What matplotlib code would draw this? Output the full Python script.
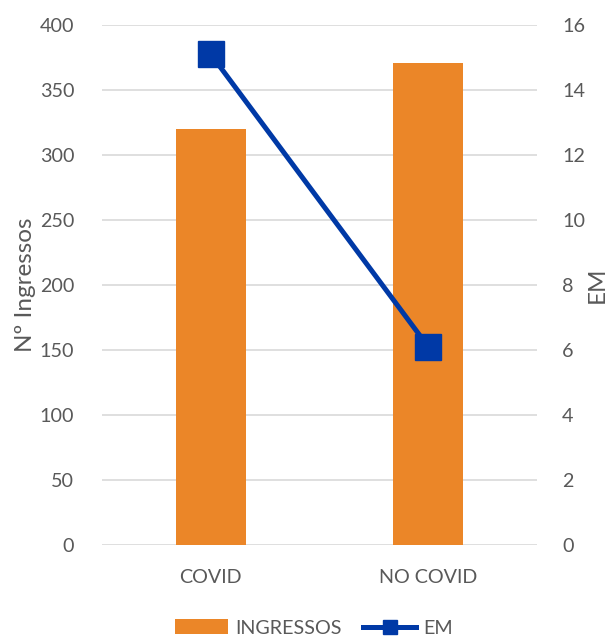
import matplotlib.pyplot as plt

plt.rcParams['font.family'] = ['Lato', 'DejaVu Sans']

# Data
categories = ['COVID', 'NO COVID']
ingressos = [320, 371]
em = [15.1, 6.1]

bar_color = '#EB8628'
line_color = '#0039A6'
text_color = '#595959'
grid_color = '#D9D9D9'

fig = plt.figure(figsize=(6.07, 6.36), dpi=100)
ax = fig.add_axes([102 / 607, 1 - 545 / 636, 435 / 607, 520 / 636])
ax2 = ax.twinx()

x = range(len(categories))
bars = ax.bar(x, ingressos, width=0.32, color=bar_color, zorder=2, label='INGRESSOS')
line, = ax2.plot(x, em, color=line_color, linewidth=3.6, marker='s', markersize=19,
                 label='EM', zorder=3)

ax.set_xlim(-0.5, 1.5)
ax.set_ylim(0, 400)
ax.set_yticks(range(0, 401, 50))
ax2.set_ylim(0, 16)
ax2.set_yticks(range(0, 17, 2))
ax.set_xticks(list(x))
ax.set_xticklabels(categories)

ax.grid(axis='y', color=grid_color, linewidth=1.2, zorder=0)
ax.set_axisbelow(True)
for a in (ax, ax2):
    for s in a.spines.values():
        s.set_visible(False)
    a.tick_params(length=0, colors=text_color, labelsize=14.2)
ax.tick_params(axis='y', pad=20)
ax2.tick_params(axis='y', pad=18)
ax.tick_params(axis='x', pad=17)

ax.set_ylabel('Nº Ingressos', color=text_color, fontsize=17.5)
ax2.set_ylabel('EM', color=text_color, fontsize=17.5)
ax.yaxis.set_label_coords(-(102 - 36) / 435, 0.5)
ax2.yaxis.set_label_coords((587 - 102) / 435, 0.5)

fig.legend(handles=[bars, line], loc='center', ncol=2, frameon=False,
           bbox_to_anchor=(0.517, 1 - 628 / 636), fontsize=14.2, labelcolor=text_color,
           handlelength=2.7, handletextpad=0.35, columnspacing=1.1, markerscale=0.55,
           handleheight=0.75, borderpad=0)

fig.savefig('out.png', dpi=100)
